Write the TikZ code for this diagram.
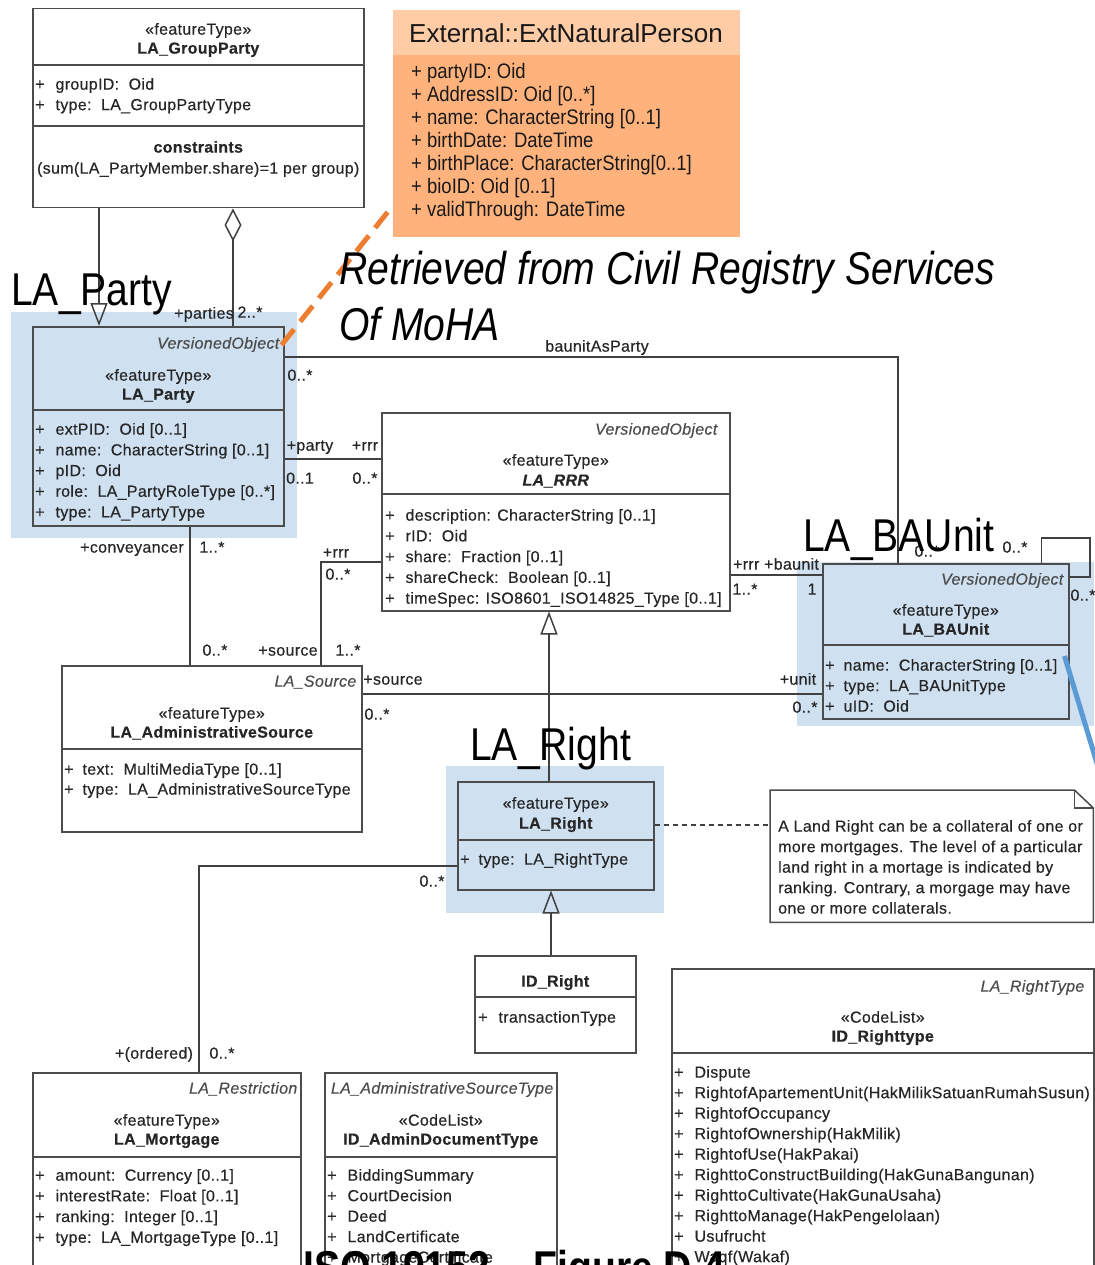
\documentclass[tikz,border=0pt]{standalone}
\usepackage{fontspec}
\setmainfont{Liberation Sans}
\newfontfamily\narrowfont[FakeStretch=0.85]{Liberation Sans}
\newfontfamily\extfont[FakeStretch=0.88]{Liberation Sans}
\newfontfamily\umlfont[LetterSpace=2,FakeBold=0.4]{Liberation Sans}
\usepackage{xcolor}
\usepackage{tikz}
\usetikzlibrary{arrows.meta}
\usetikzlibrary{calc}
\usetikzlibrary{positioning}
\definecolor{rowblue}{RGB}{207,224,241}
\definecolor{extbody}{RGB}{255,178,124}
\definecolor{exthead}{RGB}{255,204,166}
\definecolor{linkorange}{RGB}{237,125,49}
\definecolor{linkblue}{RGB}{91,155,213}
\tikzset{
	class box/.style={draw=black!70,line width=1.5pt,anchor=north west,inner sep=0pt},
	divider/.style={draw=black!70,line width=1.5pt},
	uml text/.style={font=\umlfont\fontsize{16}{20.5}\selectfont,text=black!85,inner sep=0pt,yshift=-4pt},
	stereo/.style={uml text,anchor=mid},
	cname/.style={uml text,font=\umlfont\fontsize{16}{20.5}\selectfont\bfseries,anchor=mid},
	vo/.style={uml text,font=\umlfont\fontsize{16}{20.5}\selectfont\itshape,text=black!70,anchor=mid east},
	attr/.style={uml text,anchor=mid west},
	role/.style={uml text,anchor=mid},
	assoc/.style={draw=black!75,line width=1.5pt},
	gen/.style={assoc,-{Triangle[open,length=23pt,width=17pt]}},
	agg/.style={assoc,{Diamond[open,length=33pt,width=17pt]}-},
	highlight/.style={fill=rowblue,draw=none},
	big label/.style={font=\narrowfont\fontsize{46}{57}\selectfont,anchor=base west,inner sep=0pt},
	ext text/.style={font=\extfont\fontsize{21}{23}\selectfont,text=black!90,anchor=mid west,inner sep=0pt}
}

\begin{document}
\begin{tikzpicture}[x=1pt,y=-1pt]
	\fill[white] (0,0) rectangle (1094,1265);
	\useasboundingbox (0,0) rectangle (1094,1265);
	\fill[highlight] (11,312) rectangle (297,538);
	\fill[highlight] (797,562) rectangle (1094,726);
	\fill[highlight] (446,766) rectangle (664,913);

	\node[class box,minimum width=331pt,minimum height=199pt] (grp) at (32,8) {};
	\node[stereo] at ($(grp.north)+(0,20)$) {«featureType»};
	\node[cname] at ($(grp.north)+(0,39)$) {LA\_GroupParty};
	\draw[divider] ($(grp.north west)+(0,57)$) -- ($(grp.north east)+(0,57)$);
	\foreach \a [count=\i from 0] in {groupID:\ \ Oid, type:\ \ LA\_GroupPartyType}
		\node[attr] at ($(grp.north west)+(3,75+\i*20.5)$) {+\hspace{11pt}\a};
	\draw[divider] ($(grp.north west)+(0,118)$) -- ($(grp.north east)+(0,118)$);
	\node[cname] at ($(grp.north)+(0,138)$) {constraints};
	\node[stereo] at ($(grp.north)+(0,159)$) {(sum(LA\_PartyMember.share)=1 per group)};

	\node[fill=extbody,minimum width=347pt,minimum height=227pt,anchor=north west,inner sep=0pt] (ext) at (393,10) {};
	\fill[exthead] (ext.north west) rectangle ($(ext.north east)+(0,45)$);
	\node[font=\fontsize{26}{28}\selectfont,text=black!90,anchor=mid west,inner sep=0pt] at ($(ext.north west)+(16,30)$) {External::ExtNaturalPerson};
	\foreach \a [count=\i from 0] in {partyID: Oid, AddressID: Oid [0..*], name: CharacterString [0..1], birthDate: DateTime, birthPlace: CharacterString[0..1], bioID: Oid [0..1], validThrough: DateTime}
		\node[ext text] at ($(ext.north west)+(18,66+\i*23)$) {+ \a};

	\node[class box,minimum width=251pt,minimum height=199pt] (party) at (32,326) {};
	\node[vo] at ($(party.north east)+(-5,16)$) {VersionedObject};
	\node[stereo] at ($(party.north)+(0,48)$) {«featureType»};
	\node[cname] at ($(party.north)+(0,67)$) {LA\_Party};
	\draw[divider] ($(party.north west)+(0,84)$) -- ($(party.north east)+(0,84)$);
	\foreach \a [count=\i from 0] in {extPID:\ \ Oid [0..1], name:\ \ CharacterString [0..1], pID:\ \ Oid, role:\ \ LA\_PartyRoleType [0..*], type:\ \ LA\_PartyType}
		\node[attr] at ($(party.north west)+(3,102+\i*20.7)$) {+\hspace{11pt}\a};

	\node[class box,minimum width=348pt,minimum height=198pt] (rrr) at (381,412) {};
	\node[vo] at ($(rrr.north east)+(-13,16)$) {VersionedObject};
	\node[stereo] at ($(rrr.north)+(0,47)$) {«featureType»};
	\node[cname,font=\umlfont\fontsize{16}{20.5}\selectfont\bfseries\itshape] at ($(rrr.north)+(0,67)$) {LA\_RRR};
	\draw[divider] ($(rrr.north west)+(0,82)$) -- ($(rrr.north east)+(0,82)$);
	\foreach \a [count=\i from 0] in {description: CharacterString [0..1], rID:\ \ Oid, share:\ \ Fraction [0..1], shareCheck:\ \ Boolean [0..1], timeSpec: ISO8601\_ISO14825\_Type [0..1]}
		\node[attr] at ($(rrr.north west)+(4,102+\i*20.75)$) {+\hspace{11pt}\a};

	\node[class box,minimum width=246pt,minimum height=155pt] (baunit) at (822,563) {};
	\node[vo] at ($(baunit.north east)+(-6,15)$) {VersionedObject};
	\node[stereo] at ($(baunit.north)+(0,46)$) {«featureType»};
	\node[cname] at ($(baunit.north)+(0,65)$) {LA\_BAUnit};
	\draw[divider] ($(baunit.north west)+(0,82)$) -- ($(baunit.north east)+(0,82)$);
	\foreach \a [count=\i from 0] in {name:\ \ CharacterString [0..1], type:\ \ LA\_BAUnitType, uID:\ \ Oid}
		\node[attr] at ($(baunit.north west)+(3,101+\i*20.5)$) {+\hspace{9pt}\a};

	\node[class box,minimum width=300pt,minimum height=166pt] (source) at (61,665) {};
	\node[vo] at ($(source.north east)+(-6,15)$) {LA\_Source};
	\node[stereo] at ($(source.north)+(0,47)$) {«featureType»};
	\node[cname] at ($(source.north)+(0,66)$) {LA\_AdministrativeSource};
	\draw[divider] ($(source.north west)+(0,84)$) -- ($(source.north east)+(0,84)$);
	\foreach \a [count=\i from 0] in {text:\ \ MultiMediaType [0..1], type:\ \ LA\_AdministrativeSourceType}
		\node[attr] at ($(source.north west)+(3,103+\i*20)$) {+\hspace{9pt}\a};

	\node[class box,minimum width=196pt,minimum height=108pt] (right) at (457,781) {};
	\node[stereo] at ($(right.north)+(0,21)$) {«featureType»};
	\node[cname] at ($(right.north)+(0,41)$) {LA\_Right};
	\draw[divider] ($(right.north west)+(0,59)$) -- ($(right.north east)+(0,59)$);
	\node[attr] at ($(right.north west)+(3,77)$) {+\hspace{9pt}type:\ \ LA\_RightType};

	\node[class box,minimum width=161pt,minimum height=97pt] (idright) at (474,955) {};
	\node[cname] at ($(idright.north)+(0,25)$) {ID\_Right};
	\draw[divider] ($(idright.north west)+(0,42)$) -- ($(idright.north east)+(0,42)$);
	\node[attr] at ($(idright.north west)+(4,61)$) {+\hspace{11pt}transactionType};

	\node[class box,minimum width=268pt,minimum height=196pt] (mortgage) at (32,1072) {};
	\node[vo] at ($(mortgage.north east)+(-4,15)$) {LA\_Restriction};
	\node[stereo] at ($(mortgage.north)+(0,47)$) {«featureType»};
	\node[cname] at ($(mortgage.north)+(0,66)$) {LA\_Mortgage};
	\draw[divider] ($(mortgage.north west)+(0,85)$) -- ($(mortgage.north east)+(0,85)$);
	\foreach \a [count=\i from 0] in {amount:\ \ Currency [0..1], interestRate:\ \ Float [0..1], ranking:\ \ Integer [0..1], type:\ \ LA\_MortgageType [0..1]}
		\node[attr] at ($(mortgage.north west)+(3,102+\i*20.7)$) {+\hspace{11pt}\a};

	\node[class box,minimum width=232pt,minimum height=196pt] (admindoc) at (324,1072) {};
	\node[vo] at ($(admindoc.north east)+(-4,15)$) {LA\_AdministrativeSourceType};
	\node[stereo] at ($(admindoc.north)+(0,47)$) {«CodeList»};
	\node[cname] at ($(admindoc.north)+(0,66)$) {ID\_AdminDocumentType};
	\draw[divider] ($(admindoc.north west)+(0,85)$) -- ($(admindoc.north east)+(0,85)$);
	\foreach \a [count=\i from 0] in {BiddingSummary, CourtDecision, Deed, LandCertificate, MortgageCertificate}
		\node[attr] at ($(admindoc.north west)+(3,102+\i*20.5)$) {+\hspace{11pt}\a};

	\node[class box,minimum width=422pt,minimum height=300pt] (righttype) at (671,968) {};
	\node[vo] at ($(righttype.north east)+(-10,17)$) {LA\_RightType};
	\node[stereo] at ($(righttype.north)+(0,48)$) {«CodeList»};
	\node[cname] at ($(righttype.north)+(0,67)$) {ID\_Righttype};
	\draw[divider] ($(righttype.north west)+(0,85)$) -- ($(righttype.north east)+(0,85)$);
	\foreach \a [count=\i from 0] in {Dispute, RightofApartementUnit(HakMilikSatuanRumahSusun), RightofOccupancy, RightofOwnership(HakMilik), RightofUse(HakPakai), RighttoConstructBuilding(HakGunaBangunan), RighttoCultivate(HakGunaUsaha), RighttoManage(HakPengelolaan), Usufrucht, Waqf(Wakaf)}
		\node[attr] at ($(righttype.north west)+(3,103+\i*20.5)$) {+\hspace{11pt}\a};

	\node[minimum width=323pt,minimum height=132pt,anchor=north west,inner sep=0pt] (note) at (770,790) {};
	\draw[divider,fill=white] (note.north west) -- ($(note.north east)+(-19,0)$) -- ($(note.north east)+(0,18)$) -- (note.south east) -- (note.south west) -- cycle;
	\draw[divider] ($(note.north east)+(-19,0)$) |- ($(note.north east)+(0,18)$);
	\foreach \a [count=\i from 0] in {{A Land Right can be a collateral of one or}, {more mortgages. The level of a particular}, {land right in a mortage is indicated by}, {ranking. Contrary, a morgage may have}, {one or more collaterals.}}
		\node[attr] at ($(note.north west)+(8,35+\i*20.5)$) {\a};

	\draw[gen] ($(grp.south west)+(67,0)$) -- ($(party.north west)+(67,0)$);
	\draw[agg] ($(grp.south west)+(201,0)$) -- ($(party.north west)+(201,0)$);
	\node[role] at (204,312) {+parties};
	\node[role] at (250,311) {2..*};

	\draw[assoc] ($(party.north east)+(0,31)$) -| ($(baunit.north west)+(76,0)$);
	\node[role] at (597,345) {baunitAsParty};
	\node[role] at (300,374) {0..*};
	\node[role] at (927,550) {0..*};

	\coordinate (loop) at (1090,538);
	\draw[assoc] ($(baunit.north east)+(-28,0)$) |- (loop) |- ($(baunit.north east)+(0,14)$);
	\node[role] at (1015,546) {0..*};
	\node[role] at (1083,594) {0..*};

	\draw[assoc] ($(party.north east)+(0,133)$) -- ($(rrr.north west)+(0,47)$);
	\node[role] at (310,444) {+party};
	\node[role] at (365,444) {+rrr};
	\node[role] at (300,477) {0..1};
	\node[role] at (365,477) {0..*};

	\draw[assoc] ($(rrr.north east)+(0,163)$) -- ($(baunit.north west)+(0,12)$);
	\node[role] at (776,563) {+rrr +baunit};
	\node[role] at (745,588) {1..*};
	\node[role] at (812,588) {1};

	\draw[assoc] ($(party.south west)+(158,0)$) -- ($(source.north west)+(129,0)$);
	\node[role] at (132,546) {+conveyancer};
	\node[role] at (212,546) {1..*};
	\node[role] at (215,649) {0..*};

	\draw[assoc] ($(rrr.north west)+(0,150)$) -| ($(source.north west)+(260,0)$);
	\node[role] at (336,551) {+rrr};
	\node[role] at (338,573) {0..*};
	\node[role] at (288,649) {+source};
	\node[role] at (348,649) {1..*};

	\draw[assoc] ($(source.north east)+(0,29)$) -- ($(baunit.north west)+(0,131)$);
	\node[role] at (393,678) {+source};
	\node[role] at (377,713) {0..*};
	\node[role] at (798,678) {+unit};
	\node[role] at (805,706) {0..*};

	\draw[gen] ($(right.north west)+(92,0)$) -- ($(rrr.south west)+(168,0)$);
	\draw[gen] ($(idright.north west)+(77,0)$) -- ($(right.south west)+(94,0)$);
	\draw[assoc,dashed,dash pattern=on 5pt off 4pt] ($(right.north east)+(0,44)$) -- ($(note.north west)+(0,35)$);

	\draw[assoc] ($(right.north west)+(0,85)$) -| ($(mortgage.north west)+(167,0)$);
	\node[role] at (432,880) {0..*};
	\node[role] at (154,1052) {+(ordered)};
	\node[role] at (222,1052) {0..*};

	\draw[linkorange,line width=5pt,dash pattern=on 20pt off 10pt] ($(party.north east)+(-3,19)$) -- ($(ext.south west)+(0,-32)$);
	\coordinate (offpage) at (1099,770);
	\draw[linkblue,line width=5pt] ($(baunit.north east)+(-5,93)$) -- (offpage);

	\node[big label] (partylabel) at (11,305) {LA\_Party};
	\node[big label] (baunitlabel) at (803,551) {LA\_BAUnit};
	\node[big label] (rightlabel) at (470,760) {LA\_Right};
	\node[big label,font=\narrowfont\itshape\fontsize{46}{57}\selectfont] (retrieved) at (339,284) {Retrieved from Civil Registry Services};
	\node[big label,font=\narrowfont\itshape\fontsize{46}{57}\selectfont] (moha) at (339,340) {Of MoHA};
	\node[big label,font=\narrowfont\bfseries\fontsize{46}{57}\selectfont] (figcap) at (303,1283) {ISO 19152 – Figure D.4};
\end{tikzpicture}
\end{document}
